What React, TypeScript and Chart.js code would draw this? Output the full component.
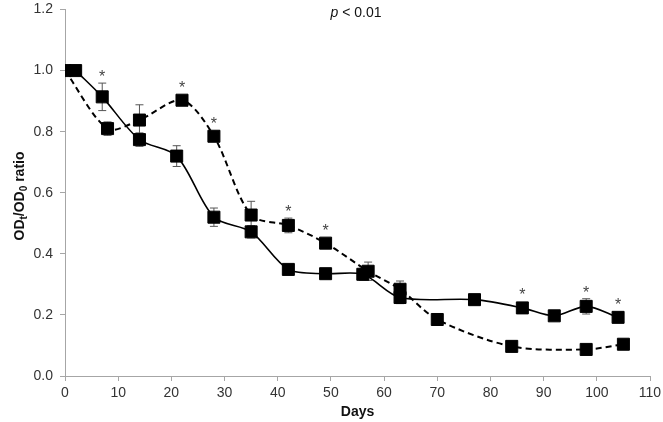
import React, { useEffect, useRef } from "react";
import { Chart, registerables } from "chart.js";

Chart.register(...registerables);

// Solid series (line) data
const solidDays = [2, 7, 14, 21, 28, 35, 42, 49, 56, 63, 77, 86, 92, 98, 104];
const solidVals = [1.0, 0.914, 0.774, 0.72, 0.52, 0.472, 0.349, 0.335, 0.333, 0.257, 0.25, 0.223, 0.197, 0.228, 0.192];
const solidErr = [0, 0.045, 0.022, 0.034, 0.03, 0.02, 0.008, 0.008, 0.02, 0.02, 0.008, 0.01, 0.008, 0.025, 0.008];
const solidStars = [7, 86, 98, 104];

// Dashed series data
const dashedDays = [0, 8, 14, 22, 28, 35, 42, 49, 57, 63, 70, 84, 98, 105];
const dashedVals = [1.0, 0.81, 0.838, 0.903, 0.785, 0.527, 0.493, 0.435, 0.343, 0.284, 0.185, 0.097, 0.087, 0.104];
const dashedErr = [0, 0.022, 0.05, 0.006, 0.006, 0.045, 0.024, 0.008, 0.03, 0.027, 0.004, 0.004, 0.004, 0.004];
const dashedStars = [22, 28, 42, 49];

const xMin = 0;
const xMax = 110;
const xStep = 10;
const yMin = 0;
const yMax = 1.2;
const yStep = 0.2;

const FONT = "'Liberation Sans', Arial, sans-serif";

const toPoints = (days: number[], vals: number[]) => days.map((d, i) => ({ x: d, y: vals[i] }));

const errorPlugin = {
  id: "errorBars",
  beforeDatasetsDraw(chart: any) {
    const { ctx, scales } = chart;
    const xs = scales.x;
    const ys = scales.y;
    const draw = (days: number[], vals: number[], errs: number[]) => {
      days.forEach((d, i) => {
        const e = errs[i];
        if (!e) return;
        const px = xs.getPixelForValue(d);
        const yt = ys.getPixelForValue(vals[i] + e);
        const yb = ys.getPixelForValue(vals[i] - e);
        ctx.save();
        ctx.strokeStyle = "#555";
        ctx.lineWidth = 1;
        ctx.beginPath();
        ctx.moveTo(px, yt);
        ctx.lineTo(px, yb);
        ctx.moveTo(px - 4, yt);
        ctx.lineTo(px + 4, yt);
        ctx.moveTo(px - 4, yb);
        ctx.lineTo(px + 4, yb);
        ctx.stroke();
        ctx.restore();
      });
    };
    draw(solidDays, solidVals, solidErr);
    draw(dashedDays, dashedVals, dashedErr);
  },
  afterDatasetsDraw(chart: any) {
    const { ctx, scales } = chart;
    const xs = scales.x;
    const ys = scales.y;
    const star = (days: number[], vals: number[], errs: number[], stars: number[]) => {
      stars.forEach((sd) => {
        const i = days.indexOf(sd);
        if (i < 0) return;
        const px = xs.getPixelForValue(sd);
        const py = ys.getPixelForValue(vals[i]);
        const et = ys.getPixelForValue(vals[i] + errs[i]);
        const top = Math.min(py - 6.5, et);
        const cy = top - 10;
        ctx.save();
        ctx.fillStyle = "#444";
        ctx.font = `16px ${FONT}`;
        ctx.textAlign = "center";
        ctx.textBaseline = "alphabetic";
        ctx.fillText("*", px, cy + 9);
        ctx.restore();
      });
    };
    star(solidDays, solidVals, solidErr, solidStars);
    star(dashedDays, dashedVals, dashedErr, dashedStars);
  },
  afterDraw(chart: any) {
    const { ctx } = chart;
    // p-value title
    ctx.save();
    ctx.fillStyle = "#111";
    ctx.textBaseline = "middle";
    ctx.textAlign = "left";
    const f1 = `italic 14px ${FONT}`;
    const f2 = `14px ${FONT}`;
    ctx.font = f1;
    const w1 = ctx.measureText("p").width;
    ctx.font = f2;
    const rest = " < 0.01";
    const w2 = ctx.measureText(rest).width;
    const sx = 356 - (w1 + w2) / 2;
    ctx.font = f1;
    ctx.fillText("p", sx, 13);
    ctx.font = f2;
    ctx.fillText(rest, sx + w1, 13);
    ctx.restore();

    // Y axis title with subscripts
    ctx.save();
    ctx.translate(20, 196);
    ctx.rotate(-Math.PI / 2);
    ctx.fillStyle = "#111";
    ctx.textBaseline = "middle";
    ctx.textAlign = "left";
    const big = `bold 14px ${FONT}`;
    const small = `bold 10px ${FONT}`;
    const parts: [string, boolean][] = [["OD", false], ["t", true], ["/OD", false], ["0", true], [" ratio", false]];
    let total = 0;
    parts.forEach(([t, s]) => {
      ctx.font = s ? small : big;
      total += ctx.measureText(t).width;
    });
    let x = -total / 2;
    parts.forEach(([t, s]) => {
      ctx.font = s ? small : big;
      ctx.fillText(t, x, s ? 4 : 0);
      x += ctx.measureText(t).width;
    });
    ctx.restore();
  },
};

export default function App() {
  const ref = useRef<HTMLCanvasElement | null>(null);
  useEffect(() => {
    if (!ref.current) return;
    const chart = new Chart(ref.current, {
      type: "line",
      data: {
        datasets: [
          {
            label: "dashed",
            data: toPoints(dashedDays, dashedVals),
            borderColor: "#000",
            backgroundColor: "#000",
            borderWidth: 2,
            borderDash: [6, 4],
            tension: 0.3,
            pointStyle: "rect",
            pointRadius: 8.5,
            pointBorderWidth: 1,
            pointBackgroundColor: "#000",
            pointBorderColor: "#000",
          },
          {
            label: "solid",
            data: toPoints(solidDays, solidVals),
            borderColor: "#000",
            backgroundColor: "#000",
            borderWidth: 1.6,
            tension: 0.3,
            pointStyle: "rect",
            pointRadius: 8.5,
            pointBorderWidth: 1,
            pointBackgroundColor: "#000",
            pointBorderColor: "#000",
          },
        ],
      },
      options: {
        responsive: false,
        animation: false,
        layout: { padding: { left: 0, right: 13, top: 6, bottom: 0 } },
        plugins: {
          legend: { display: false },
          tooltip: { enabled: false },
          title: { display: false },
        },
        scales: {
          x: {
            type: "linear",
            min: xMin,
            max: xMax,
            grid: { drawOnChartArea: false, drawTicks: true, tickLength: 5, color: "#a6a6a6" },
            border: { color: "#a6a6a6", width: 1 },
            ticks: {
              stepSize: xStep,
              color: "#333",
              font: { family: FONT, size: 14, lineHeight: 1 },
              padding: 5,
              maxRotation: 0,
            },
            title: {
              display: true,
              text: "Days",
              color: "#111",
              font: { family: FONT, size: 14, weight: "bold" },
              padding: { top: 0, bottom: 1 },
            },
            afterFit: (s: any) => {
              s.height = 46;
              s.paddingRight = 0;
              s.paddingLeft = 0;
            },
          },
          y: {
            type: "linear",
            min: yMin,
            max: yMax,
            grid: { drawOnChartArea: false, drawTicks: true, tickLength: 5, color: "#a6a6a6" },
            border: { color: "#a6a6a6", width: 1 },
            ticks: {
              stepSize: yStep,
              color: "#333",
              font: { family: FONT, size: 14, lineHeight: 1 },
              padding: 7,
              callback: (v: any) => Number(v).toFixed(1),
            },
            afterFit: (s: any) => {
              s.width = 65;
              s.paddingTop = 0;
              s.paddingBottom = 0;
            },
          },
        },
      } as any,
      plugins: [errorPlugin],
    });
    return () => chart.destroy();
  }, []);
  return (
    <div style={{ position: "absolute", left: 0, top: 0, width: 663, height: 422, background: "#fff" }}>
      <canvas ref={ref} width={663} height={422} />
    </div>
  );
}
